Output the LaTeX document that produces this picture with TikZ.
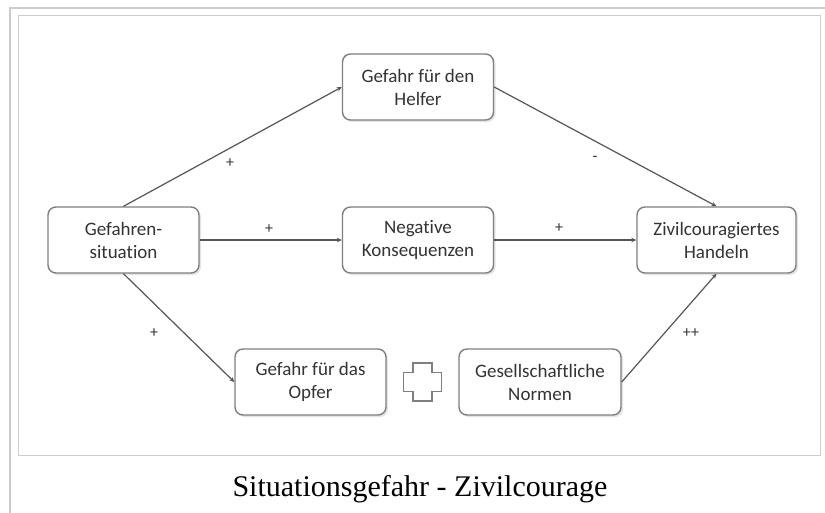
\documentclass[tikz,border=0pt]{standalone}
\usepackage{fontspec}
\setmainfont{Carlito}[Ligatures=CommonOff]
\newfontfamily\capfont{Liberation Serif}
\usetikzlibrary{arrows.meta}
\definecolor{boxline}{HTML}{7F7F7F}
\definecolor{txt}{HTML}{333333}
\definecolor{conn}{HTML}{555555}
\definecolor{frame}{HTML}{CCCCCC}
\tikzset{
  box/.style={draw=boxline, line width=1.4pt, rounded corners=8pt, fill=white,
    minimum height=66pt, inner sep=0pt, align=center, text=txt,
    font=\fontsize{19}{23}\selectfont},
  link/.style={draw=conn, line width=1.2pt, -{Stealth[length=5pt,width=4.5pt]}},
  sign/.style={text=txt, font=\fontsize{16}{16}\selectfont, inner sep=0pt}
}
\begin{document}
\begin{tikzpicture}[x=1pt,y=-1pt]
\useasboundingbox (0,0) rectangle (825,512);
\fill[white] (0,0) rectangle (825,512);
\draw[frame, line width=1.5pt] (10,8) rectangle (840,530);
\draw[frame, line width=1pt] (18,15) rectangle (820,455);
% shadows
\foreach \cx/\cy/\w in {123.5/240/151, 418/87/151, 418/240/151, 716.5/240/159, 310.5/382/151, 540/382/162}{
  \fill[black!10, rounded corners=8pt] (\cx-\w/2+2,\cy-33+2) rectangle (\cx+\w/2+2,\cy+33+2);
}
\node[box, minimum width=151pt] (g) at (123.5,240) {Gefahren-\\situation};
\node[box, minimum width=151pt] (h) at (418,87) {Gefahr für den\\Helfer};
\node[box, minimum width=151pt] (n) at (418,240) {Negative\\Konsequenzen};
\node[box, minimum width=159pt] (z) at (716.5,240) {Zivilcouragiertes\\Handeln};
\node[box, minimum width=151pt] (o) at (310.5,382) {Gefahr für das\\Opfer};
\node[box, minimum width=162pt] (s) at (540,382) {Gesellschaftliche\\Normen};
\coordinate (pc) at (422.5,382);
\draw[boxline, line width=1.4pt, fill=white]
  ([shift={(-9.5,-19)}]pc) -- ([shift={(9.5,-19)}]pc) -- ([shift={(9.5,-9.5)}]pc)
  -- ([shift={(19,-9.5)}]pc) -- ([shift={(19,9.5)}]pc) -- ([shift={(9.5,9.5)}]pc)
  -- ([shift={(9.5,19)}]pc) -- ([shift={(-9.5,19)}]pc) -- ([shift={(-9.5,9.5)}]pc)
  -- ([shift={(-19,9.5)}]pc) -- ([shift={(-19,-9.5)}]pc) -- ([shift={(-9.5,-9.5)}]pc) -- cycle;
\draw[link] (g.north) -- (h.west);
\draw[link] (h.east) -- (z.north);
\draw[link] (g.east) -- (n.west);
\draw[link] (n.east) -- (z.west);
\draw[link] (g.south) -- (o.west);
\draw[link] (s.east) -- (z.south);
\node[sign] (l1) at (230,163) {+};
\node[sign] (l2) at (595,159) {-};
\node[sign] (l3) at (269,229) {+};
\node[sign] (l4) at (559,228) {+};
\node[sign] (l5) at (154,333) {+};
\node[sign] (l6) at (691,333) {++};
\node[font=\capfont\fontsize{30}{30}\selectfont, text=black, inner sep=0pt] (cap) at (420,489) {Situationsgefahr - Zivilcourage};
\end{tikzpicture}
\end{document}
